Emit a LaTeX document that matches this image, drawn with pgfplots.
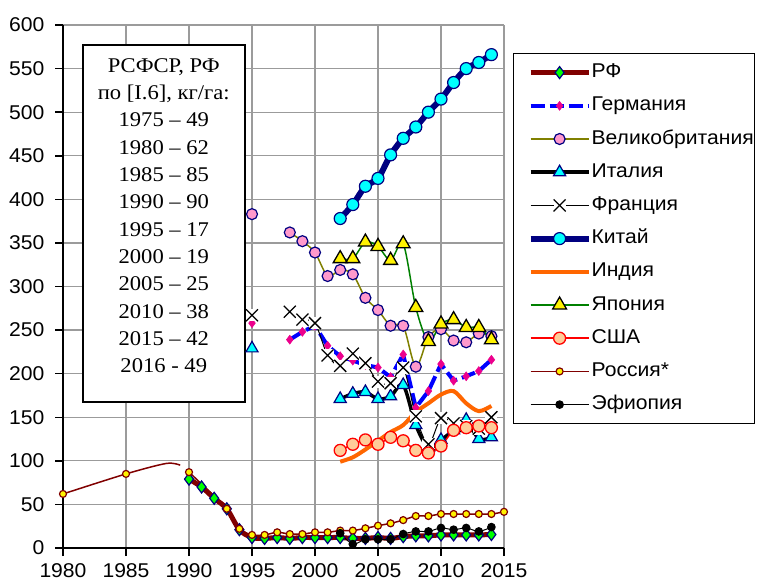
\documentclass[border=0pt]{standalone}
\usepackage{pgfplots}
\pgfplotsset{compat=1.18}
\usepackage{fontspec}
\setmainfont{Liberation Sans}[FakeStretch=1.06]
\newfontfamily\tnr{Liberation Serif}[FakeStretch=1.08]
\definecolor{rfred}{RGB}{128,0,0}
\definecolor{navy}{RGB}{0,0,128}
\definecolor{ukpink}{RGB}{255,153,204}
\definecolor{olivel}{RGB}{128,128,0}
\definecolor{indiaor}{RGB}{255,102,0}
\definecolor{jgreen}{RGB}{0,128,0}
\definecolor{peach}{RGB}{255,204,153}
\definecolor{gridgray}{RGB}{155,155,155}
\definecolor{cyanx}{RGB}{0,255,255}
\definecolor{limeg}{RGB}{0,255,0}
\pgfdeclareplotmark{xw}{%
 \pgfpathrectangle{\pgfpoint{-\pgfplotmarksize}{-\pgfplotmarksize}}{\pgfpoint{2\pgfplotmarksize}{2\pgfplotmarksize}}%
 \pgfusepathqfill
 \pgfpathmoveto{\pgfpoint{-\pgfplotmarksize}{-\pgfplotmarksize}}\pgfpathlineto{\pgfpoint{\pgfplotmarksize}{\pgfplotmarksize}}%
 \pgfpathmoveto{\pgfpoint{-\pgfplotmarksize}{\pgfplotmarksize}}\pgfpathlineto{\pgfpoint{\pgfplotmarksize}{-\pgfplotmarksize}}%
 \pgfusepathqstroke}
\begin{document}
\begin{tikzpicture}
\begin{axis}[name=ax, scale only axis, width=441bp, height=523bp,
 xmin=1980, xmax=2015, ymin=0, ymax=600,
 xtick={1980,1985,...,2015}, ytick={0,50,...,600},
 grid=major, grid style={line width=1.2bp, color=gridgray},
 axis x line*=bottom, axis y line*=left,
 axis line style={line width=1.8bp, black, -},
 tick align=outside, major tick length=8bp,
 tick style={line width=1.5bp, black},
 ticklabel style={font=\fontsize{20}{24}\selectfont},
 /pgf/number format/assume math mode=true,
 x tick label style={/pgf/number format/1000 sep={}, yshift=-4bp},
 y tick label style={xshift=-7bp},
 unbounded coords=jump, clip=false,
 legend cell align=left,
 legend image code/.code={\path (0bp,0bp) (71bp,0bp); \draw[mark repeat=2,mark phase=2,#1] plot coordinates {(13bp,0bp) (42bp,0bp) (71bp,0bp)};},
 legend style={at={(1,1)}, anchor=north west, xshift=9bp, yshift=-28bp,
   draw=black, line width=1.2bp, font=\fontsize{20}{24}\selectfont,
   inner xsep=1bp, inner ysep=10bp, row sep=15.2bp, column sep=0bp,
   nodes={inner sep=0pt, text height=14bp, text depth=4bp}},
]
% RF
\addplot[draw=rfred, line width=5bp, smooth, mark=diamond*, mark size=6bp, mark options={fill=limeg, draw=navy, line width=1.2bp}] coordinates {
(1990,79)(1991,70)(1992,57)(1993,45)(1994,21)(1995,12)(1996,11)(1997,12)(1998,11)(1999,12)(2000,12)(2001,12)(2002,12)(2003,11)(2004,11)(2005,12)(2006,11)(2007,13)(2008,14)(2009,14)(2010,15)(2011,15)(2012,15)(2013,15)(2014,15.5)};
\addlegendentry{РФ}
% Germany
\addplot[draw=blue, line width=4bp, dash pattern=on 14bp off 5bp, mark=diamond*, mark size=4.5bp, mark options={fill=magenta, draw=magenta, solid, line width=0.5bp}] coordinates {
(1995,258)(1996,nan)(1998,239)(1999,248)(2000,255)(2001,232)(2002,220)(2003,215)(2004,210)(2005,207)(2006,196)(2007,222)(2008,161)(2009,180)(2010,211)(2011,192)(2012,197)(2013,203)(2014,216)};
\addlegendentry{Германия}
% UK
\addplot[draw=olivel, line width=1.5bp, smooth, mark=*, mark size=5.5bp, mark options={fill=ukpink, draw=navy, line width=1.2bp}] coordinates {
(1995,383)(1996,nan)(1998,362)(1999,352)(2000,339)(2001,312)(2002,319)(2003,314)(2004,287)(2005,273)(2006,255)(2007,255)(2008,208)(2009,242)(2010,251)(2011,238)(2012,236)(2013,246)(2014,243)};
\addlegendentry{Великобритания}
% Italy
\addplot[draw=black, line width=3.5bp, smooth, mark=triangle*, mark size=7bp, mark options={fill=cyanx, draw=navy, line width=1.2bp}] coordinates {
(1995,229)(1996,nan)(2002,171)(2003,177)(2004,179)(2005,171)(2006,174)(2007,187)(2008,141)(2009,115)(2010,124)(2011,135)(2012,147)(2013,125)(2014,127)};
\addlegendentry{Италия}
% France
\addplot[draw=black, line width=1bp, smooth, mark=xw, mark size=6bp, mark options={fill=white, draw=black, line width=1.3bp}] coordinates {
(1995,267)(1996,nan)(1998,271)(1999,262)(2000,258)(2001,221)(2002,209)(2003,223)(2004,212)(2005,191)(2006,189)(2007,207)(2008,151)(2009,119)(2010,149)(2011,143)(2012,140)(2013,137)(2014,150)};
\addlegendentry{Франция}
% China
\addplot[draw=navy, line width=6bp, smooth, mark=*, mark size=6bp, mark options={fill=cyanx, draw=navy, line width=1.2bp}] coordinates {
(2002,378)(2003,394)(2004,415)(2005,424)(2006,451)(2007,470)(2008,483)(2009,500)(2010,515)(2011,534)(2012,550)(2013,557)(2014,566)};
\addlegendentry{Китай}
% India
\addplot[draw=indiaor, line width=4bp, smooth] coordinates {
(2002,99)(2003,104)(2004,113)(2005,123)(2006,133)(2007,141)(2008,156)(2009,166)(2010,176)(2011,180)(2012,166)(2013,157)(2014,163)};
\addlegendentry{Индия}
% Japan
\addplot[draw=jgreen, line width=1.5bp, smooth, mark=triangle*, mark size=8bp, mark options={fill=yellow, draw=black, line width=1.3bp}] coordinates {
(2002,332)(2003,332)(2004,351)(2005,346)(2006,330)(2007,349)(2008,276)(2009,237)(2010,257)(2011,262)(2012,253)(2013,253)(2014,239)};
\addlegendentry{Япония}
% USA
\addplot[draw=red, line width=1.5bp, smooth, mark=*, mark size=6bp, mark options={fill=peach, draw=red, line width=1.3bp}] coordinates {
(2002,112)(2003,119)(2004,124)(2005,119)(2006,127)(2007,123)(2008,112)(2009,109)(2010,117)(2011,135)(2012,138)(2013,140)(2014,138)};
\addlegendentry{США}
% Russia* early part
\addplot[forget plot, draw=rfred, line width=1.5bp, smooth, mark=*, mark indices={1,2}, mark size=3.5bp, mark options={fill=yellow, draw=rfred, line width=1.2bp}] coordinates {
(1980,62)(1985,85)(1988.2,97)(1989.3,95)};
% Russia*
\addplot[draw=rfred, line width=1.5bp, smooth, mark=*, mark size=3.5bp, mark options={fill=yellow, draw=rfred, line width=1.2bp}] coordinates {
(1990,87)(1993,45)(1994,22)(1995,15)(1996,15)(1997,18)(1998,16)(1999,16)(2000,18)(2001,18)(2002,20)(2003,20)(2004,22.6)(2005,25.6)(2006,28.3)(2007,32)(2008,36.7)(2009,36.7)(2010,39)(2011,39)(2012,39)(2013,39)(2014,39)(2015,41.5)};
\addlegendentry{Россия*}
% Ethiopia
\addplot[draw=black, line width=1bp, smooth, mark=*, mark size=3.8bp, mark options={fill=black, draw=black}] coordinates {
(2002,17)(2003,4.5)(2004,10)(2005,10)(2006,10)(2007,16)(2008,19)(2009,19)(2010,23)(2011,21)(2012,23)(2013,19)(2014,24)};
\addlegendentry{Эфиопия}
\node[draw=black, line width=1.5bp, fill=white, minimum width=162bp, minimum height=357bp, inner sep=0pt] at (axis cs:1988.0,372) {};
\node[align=center, inner sep=0pt, font=\tnr\fontsize{21}{27.4}\selectfont] at (axis cs:1988.0,381.3) {РСФСР, РФ\\по [I.6], кг/га:\\1975 – 49\\1980 – 62\\1985 – 85\\1990 – 90\\1995 – 17\\2000 – 19\\2005 – 25\\2010 – 38\\2015 – 42\\2016 - 49};
\end{axis}
\pgfresetboundingbox
\path (ax.south west) ++(-63bp,-35bp) rectangle ++(758bp,583bp);
\end{tikzpicture}
\end{document}
